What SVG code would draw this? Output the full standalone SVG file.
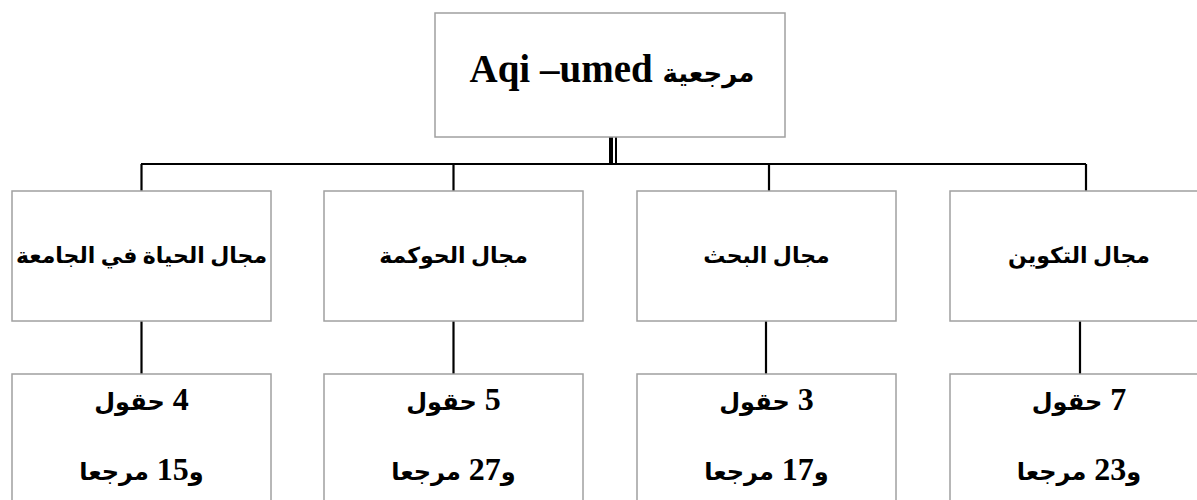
<svg xmlns="http://www.w3.org/2000/svg" width="1197" height="500" viewBox="0 0 1197 500">
<style>
.box{fill:#fff;stroke:#a0a0a0;stroke-width:1.5}
.con{stroke:#000;stroke-width:2.2;fill:none}
.t{font-family:"Liberation Serif","DejaVu Sans",serif;font-weight:bold;fill:#000;text-anchor:middle}
.top{font-size:39px}
.mid{font-size:22px}
.bot{font-size:32px}
.ar{font-size:24px}
.art{font-size:26px}
</style>
<rect width="1197" height="500" fill="#fff"/>
<g id="connectors">
<line class="con" x1="141" y1="164" x2="1086" y2="164"/>
<line x1="611" y1="137" x2="611" y2="164" stroke="#000" stroke-width="4"/>
<line x1="616" y1="137" x2="616" y2="164" stroke="#000" stroke-width="2"/>
<line class="con" x1="141.5" y1="164" x2="141.5" y2="191"/>
<line class="con" x1="453.5" y1="164" x2="453.5" y2="191"/>
<line class="con" x1="769" y1="164" x2="769" y2="191"/>
<line class="con" x1="1086" y1="164" x2="1086" y2="191"/>
<line class="con" x1="141.5" y1="321" x2="141.5" y2="374"/>
<line class="con" x1="453.5" y1="321" x2="453.5" y2="374"/>
<line class="con" x1="766" y1="321" x2="766" y2="374"/>
<line class="con" x1="1080" y1="321" x2="1080" y2="374"/>
</g>
<g id="root">
<rect class="box" x="435" y="13" width="350" height="124"/>
<text class="t top" x="612" y="82" direction="rtl"><tspan class="art">مرجعية</tspan> Aqi –umed</text>
</g>
<g id="d1">
<rect class="box" x="12" y="191" width="259" height="130"/>
<text class="t mid" x="141.5" y="263" direction="rtl">مجال الحياة في الجامعة</text>
</g>
<g id="d2">
<rect class="box" x="324" y="191" width="259" height="130"/>
<text class="t mid" x="453.5" y="263" direction="rtl">مجال الحوكمة</text>
</g>
<g id="d3">
<rect class="box" x="637" y="191" width="259" height="130"/>
<text class="t mid" x="766.5" y="263" direction="rtl">مجال البحث</text>
</g>
<g id="d4">
<rect class="box" x="950" y="191" width="259" height="130"/>
<text class="t mid" x="1079" y="263" direction="rtl">مجال التكوين</text>
</g>
<g id="s1">
<rect class="box" x="12" y="374" width="259" height="140"/>
<text class="t bot" x="141.5" y="410" direction="rtl">4 <tspan class="ar">حقول</tspan></text>
<text class="t bot" x="141.5" y="480" direction="rtl"><tspan class="ar">و</tspan>15 <tspan class="ar">مرجعا</tspan></text>
</g>
<g id="s2">
<rect class="box" x="324" y="374" width="259" height="140"/>
<text class="t bot" x="453.5" y="410" direction="rtl">5 <tspan class="ar">حقول</tspan></text>
<text class="t bot" x="453.5" y="480" direction="rtl"><tspan class="ar">و</tspan>27 <tspan class="ar">مرجعا</tspan></text>
</g>
<g id="s3">
<rect class="box" x="637" y="374" width="259" height="140"/>
<text class="t bot" x="766.5" y="410" direction="rtl">3 <tspan class="ar">حقول</tspan></text>
<text class="t bot" x="766.5" y="480" direction="rtl"><tspan class="ar">و</tspan>17 <tspan class="ar">مرجعا</tspan></text>
</g>
<g id="s4">
<rect class="box" x="950" y="374" width="259" height="140"/>
<text class="t bot" x="1079" y="410" direction="rtl">7 <tspan class="ar">حقول</tspan></text>
<text class="t bot" x="1079" y="480" direction="rtl"><tspan class="ar">و</tspan>23 <tspan class="ar">مرجعا</tspan></text>
</g>
</svg>
